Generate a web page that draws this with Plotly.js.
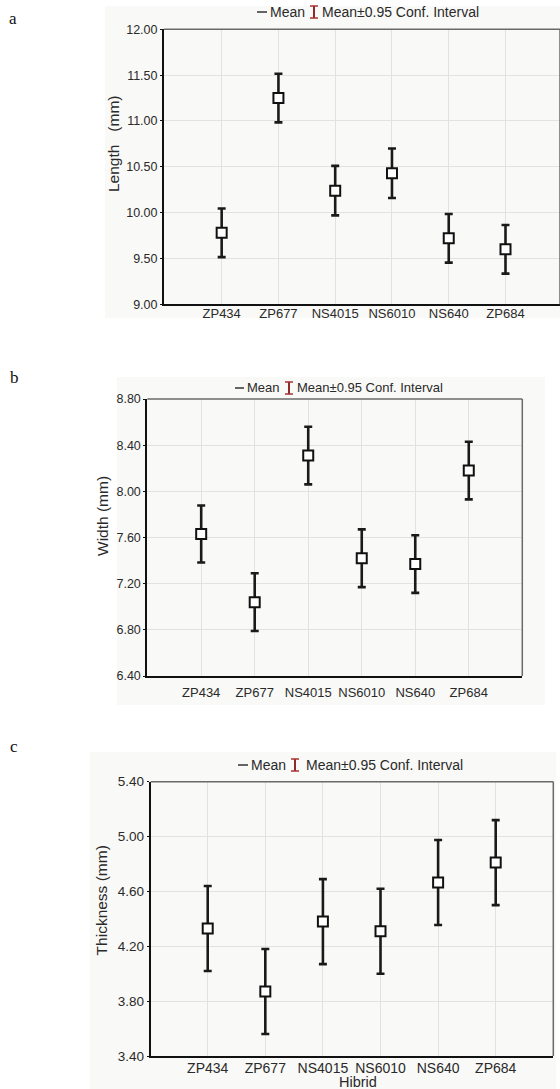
<!DOCTYPE html>
<html>
<head>
<meta charset="utf-8">
<script src="https://cdn.plot.ly/plotly-3.0.1.min.js"></script>
<style>html,body{margin:0;padding:0;background:#fff;}#chart{width:560px;height:1089px;}</style>
</head>
<body>
<div id="chart"></div>
<script>
// ---- data ----
const categories = ['ZP434', 'ZP677', 'NS4015', 'NS6010', 'NS640', 'ZP684'];
const lengthMean = [9.78, 11.25, 10.24, 10.43, 9.72, 9.60];
const lengthCI   = [0.265, 0.265, 0.27, 0.27, 0.265, 0.265];
const widthMean  = [7.63, 7.04, 8.31, 7.42, 7.37, 8.18];
const widthCI    = [0.247, 0.25, 0.25, 0.25, 0.25, 0.25];
const thickMean  = [4.33, 3.87, 4.38, 4.31, 4.665, 4.81];
const thickCI    = [0.31, 0.31, 0.31, 0.31, 0.31, 0.31];
const panelLetters = ['a', 'b', 'c'];
const yTitles = ['Length\u00a0\u00a0\u00a0(mm)', 'Width (mm)', 'Thickness (mm)'];
const xTitle = 'Hibrid';
const legendMean = 'Mean';
const legendCI = 'Mean\u00b10.95 Conf. Interval';

const W = 560, H = 1089;
const px = v => v / W;
const py = v => 1 - v / H;
const FAM = 'Arial, Liberation Sans, sans-serif';

function trace(mean, ci, xa, ya) {
  return {
    type: 'scatter', mode: 'markers', x: categories, y: mean,
    xaxis: xa, yaxis: ya,
    marker: {symbol: 'square', size: 10, color: '#ffffff', line: {color: '#111', width: 2}},
    error_y: {type: 'data', array: ci, visible: true, color: '#1a1a1a', thickness: 2.6, width: 4},
    showlegend: false, hoverinfo: 'skip'
  };
}

const data = [
  trace(lengthMean, lengthCI, 'x', 'y'),
  trace(widthMean, widthCI, 'x2', 'y2'),
  trace(thickMean, thickCI, 'x3', 'y3')
];

const gridColor = '#e2e2e2';

function xAxis(domain, range, standoff, fs) {
  return {
    domain: domain, range: range, type: 'category',
    showline: true, linecolor: '#111', linewidth: 2,
    showgrid: true, gridcolor: gridColor, gridwidth: 1,
    ticks: '', ticklabelstandoff: standoff,
    tickfont: {family: FAM, size: fs, color: '#2a2a2a'}, zeroline: false, fixedrange: true
  };
}
function yAxis(domain, range, dtick, fs) {
  return {
    domain: domain, range: range, tick0: range[0], dtick: dtick, tickformat: '.2f',
    showline: true, linecolor: '#111', linewidth: 2,
    showgrid: true, gridcolor: gridColor, gridwidth: 1,
    ticks: 'outside', ticklen: 2, tickcolor: '#111',
    tickfont: {family: FAM, size: fs, color: '#2a2a2a'}, zeroline: false, fixedrange: true
  };
}

const layout = {
  width: W, height: H,
  margin: {l: 0, r: 0, t: 0, b: 0},
  paper_bgcolor: '#ffffff', plot_bgcolor: '#fcfcfa',
  showlegend: false,
  xaxis:  xAxis([px(164), 1], [-1.016, 5.96], -4, 13),
  yaxis:  yAxis([py(304.3), py(29.3)], [9, 12], 0.5, 12.5),
  xaxis2: xAxis([px(147.3), px(522.3)], [-1.007, 6.0], 3, 13),
  yaxis2: yAxis([py(676), py(399)], [6.4, 8.8], 0.4, 12.5),
  xaxis3: xAxis([px(150.7), px(553.3)], [-0.99, 6.0], -2, 14),
  yaxis3: yAxis([py(1056), py(781.7)], [3.4, 5.4], 0.4, 13.5),
  shapes: [],
  annotations: []
};
layout.yaxis.anchor = 'x'; layout.xaxis.anchor = 'y';
layout.yaxis2.anchor = 'x2'; layout.xaxis2.anchor = 'y2';
layout.yaxis3.anchor = 'x3'; layout.xaxis3.anchor = 'y3';

// faint panel backgrounds
[[105, 6, 560, 318], [117, 377, 545, 705], [90, 752, 556, 1089]].forEach(r => {
  layout.shapes.push({type: 'rect', xref: 'paper', yref: 'paper', layer: 'below',
    x0: px(r[0]), x1: px(r[2]), y0: py(r[3]), y1: py(r[1]),
    fillcolor: '#f9f9f7', line: {width: 0}});
});

// top / right frame lines
[['x', 'y'], ['x2', 'y2'], ['x3', 'y3']].forEach(([xa, ya]) => {
  layout.shapes.push({type: 'line', xref: xa + ' domain', yref: ya + ' domain', x0: 0, x1: 1, y0: 1, y1: 1,
    line: {color: '#6a6a6a', width: 1.5}, layer: 'above'});
  layout.shapes.push({type: 'line', xref: xa + ' domain', yref: ya + ' domain', x0: 1, x1: 1, y0: 0, y1: 1,
    line: {color: '#6a6a6a', width: 1.5}, layer: 'above'});
});

// legends: [dash x0, dash x1, mean text left, I-bar x, ci text left, y center, font size]
const legPos = [
  [257, 267, 269, 314, 321, 12, 14],
  [235, 244, 246, 289, 296, 388, 13],
  [238, 248, 250, 295, 305, 765, 14]
];
legPos.forEach(p => {
  const [d0, d1, mx, ix, cx, yc, fs] = p;
  const lf = {family: FAM, size: fs, color: '#2a2a2a'};
  layout.shapes.push({type: 'line', xref: 'paper', yref: 'paper', x0: px(d0), x1: px(d1), y0: py(yc), y1: py(yc),
    line: {color: '#333', width: 1.5}});
  layout.shapes.push({type: 'line', xref: 'paper', yref: 'paper', x0: px(ix), x1: px(ix), y0: py(yc - 6), y1: py(yc + 6),
    line: {color: '#8e2a2a', width: 2}});
  layout.shapes.push({type: 'line', xref: 'paper', yref: 'paper', x0: px(ix - 4), x1: px(ix + 4), y0: py(yc - 6), y1: py(yc - 6),
    line: {color: '#a83232', width: 1.5}});
  layout.shapes.push({type: 'line', xref: 'paper', yref: 'paper', x0: px(ix - 4), x1: px(ix + 4), y0: py(yc + 6), y1: py(yc + 6),
    line: {color: '#a83232', width: 1.5}});
  layout.annotations.push({xref: 'paper', yref: 'paper', x: px(mx), y: py(yc), xanchor: 'left', yanchor: 'middle',
    text: legendMean, showarrow: false, font: lf, borderpad: 0});
  layout.annotations.push({xref: 'paper', yref: 'paper', x: px(cx), y: py(yc), xanchor: 'left', yanchor: 'middle',
    text: legendCI, showarrow: false, font: lf, borderpad: 0});
});

// panel letters
[[13, 19], [14, 378], [14, 746]].forEach((p, i) => {
  layout.annotations.push({xref: 'paper', yref: 'paper', x: px(p[0]), y: py(p[1]), xanchor: 'center', yanchor: 'middle',
    text: panelLetters[i], showarrow: false,
    font: {family: 'Liberation Serif, Times New Roman, serif', size: 17, color: '#111'}});
});

// y titles
[[113, 144], [102.3, 515.7], [101.7, 900.7]].forEach((p, i) => {
  layout.annotations.push({xref: 'paper', yref: 'paper', x: px(p[0]), y: py(p[1]), xanchor: 'center', yanchor: 'middle',
    text: yTitles[i], textangle: -90, showarrow: false,
    font: {family: FAM, size: 15.5, color: '#2a2a2a'}});
});
// x title (panel c)
layout.annotations.push({xref: 'paper', yref: 'paper', x: px(358), y: py(1081.5), xanchor: 'center', yanchor: 'middle',
  text: xTitle, showarrow: false, borderpad: 0,
  font: {family: FAM, size: 14.5, color: '#2a2a2a'}});

Plotly.newPlot('chart', data, layout, {displayModeBar: false, staticPlot: true});
</script>
</body>
</html>
